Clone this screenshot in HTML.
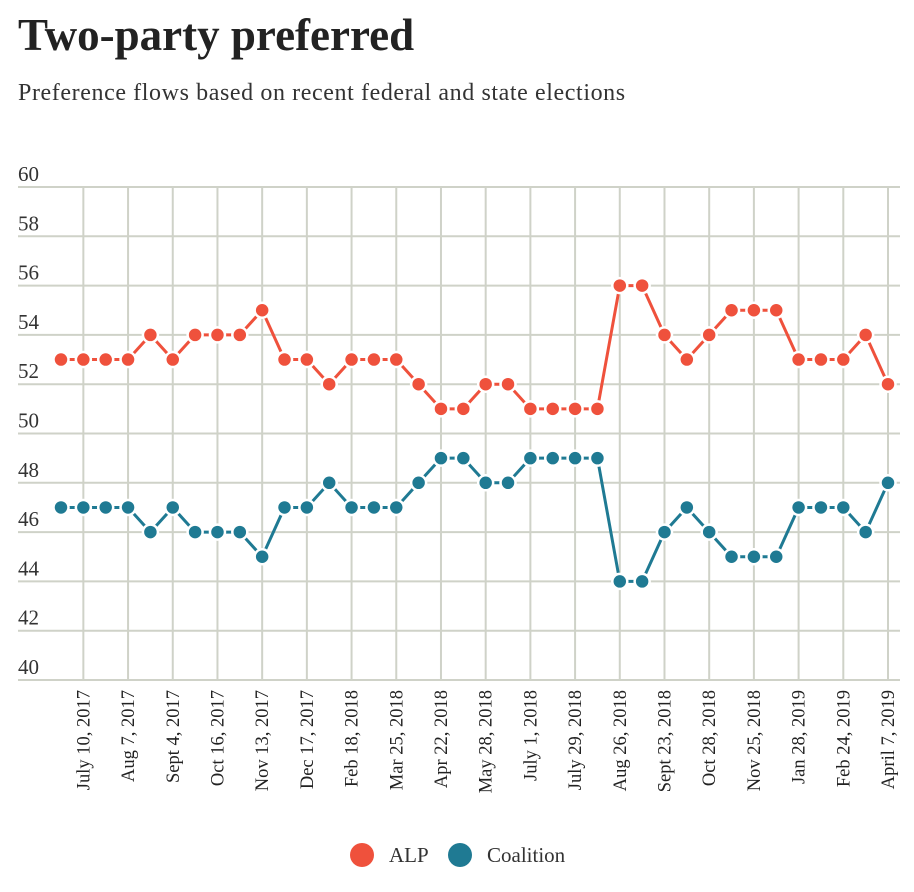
<!DOCTYPE html>
<html><head><meta charset="utf-8"><style>
body{margin:0;background:#fff;width:914px;height:892px;overflow:hidden;font-family:"Liberation Serif",serif;}
h1{position:absolute;left:18px;top:9px;margin:0;font-size:45px;font-weight:bold;color:#222;letter-spacing:0px}
.sub{position:absolute;left:18px;top:80px;font-size:24px;letter-spacing:0.6px;color:#333}
svg{position:absolute;left:0;top:0}
</style></head><body>
<h1>Two-party preferred</h1>
<div class="sub">Preference flows based on recent federal and state elections</div>
<svg id="c" width="914" height="892"></svg>
<script>
const alp=[53,53,53,53,54,53,54,54,54,55,53,53,52,53,53,53,52,51,51,52,52,51,51,51,51,56,56,54,53,54,55,55,55,53,53,53,54,52];
const coalition=[47,47,47,47,46,47,46,46,46,45,47,47,48,47,47,47,48,49,49,48,48,49,49,49,49,44,44,46,47,46,45,45,45,47,47,47,46,48];
const dateLabels=["July 10, 2017","Aug 7, 2017","Sept 4, 2017","Oct 16, 2017","Nov 13, 2017","Dec 17, 2017","Feb 18, 2018","Mar 25, 2018","Apr 22, 2018","May 28, 2018","July 1, 2018","July 29, 2018","Aug 26, 2018","Sept 23, 2018","Oct 28, 2018","Nov 25, 2018","Jan 28, 2019","Feb 24, 2019","April 7, 2019"];
const yTicks=[40,42,44,46,48,50,52,54,56,58,60];
const NS="http://www.w3.org/2000/svg",svg=document.getElementById('c');
const x=i=>61+i*(827/37);
const y=v=>680-(v-40)*(493/20);
function el(t,a,p){const e=document.createElementNS(NS,t);for(const k in a)e.setAttribute(k,a[k]);(p||svg).appendChild(e);return e;}
yTicks.forEach(v=>{
 const l=el('line',{x1:18,x2:900,y1:y(v),y2:y(v),stroke:'#cfd2c8','stroke-width':2});
 
 
 const t=el('text',{x:18,y:y(v)-6,'font-size':21,fill:'#333','font-family':'Liberation Serif'});t.textContent=v;
 
 
});
dateLabels.forEach((d,k)=>{
 const i=1+2*k,xx=x(i);
 const l=el('line',{x1:xx,x2:xx,y1:y(60),y2:y(40),stroke:'#cfd2c8','stroke-width':2});
 
 
 const t=el('text',{transform:`translate(${xx+6},690) rotate(-90)`,'text-anchor':'end','font-size':18.5,fill:'#222','font-family':'Liberation Serif'});t.textContent=d;
 
 
});
function series(vals,col,name){
 const p=el('polyline',{points:vals.map((v,i)=>x(i)+','+y(v)).join(' '),fill:'none',stroke:col,'stroke-width':3});
 
 
 vals.forEach((v,i)=>{const c=el('circle',{cx:x(i),cy:y(v),r:7.5,fill:col,stroke:'#fff','stroke-width':2.5});
 
 });
}
series(alp,'#ef513c','alp');
series(coalition,'#1f7a93','coalition');
const lg=[['ALP','#ef513c',362],['Coalition','#1f7a93',460]];
lg.forEach(([n,c,lx])=>{
 const ci=el('circle',{cx:lx,cy:855,r:12,fill:c});
 
 
 const t=el('text',{x:lx+27,y:862,'font-size':21,fill:'#333','font-family':'Liberation Serif'});t.textContent=n;
 
 
});
</script>
</body></html>
